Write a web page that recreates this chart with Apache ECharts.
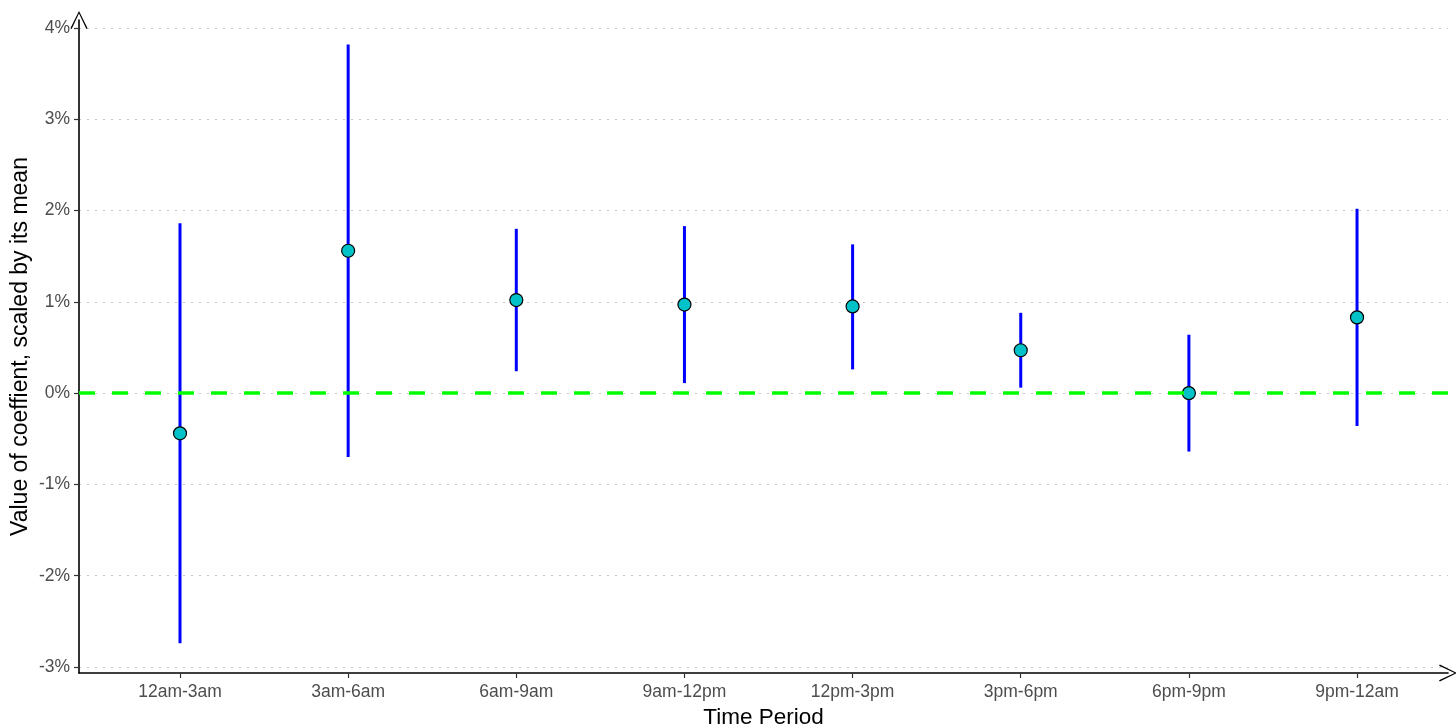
<!DOCTYPE html>
<html>
<head>
<meta charset="utf-8">
<script src="https://cdn.jsdelivr.net/npm/echarts@6/dist/echarts.min.js"></script>
<style>html,body{margin:0;padding:0;background:#fff;}#c{width:1456px;height:725px;}</style>
</head>
<body>
<div id="c"></div>
<script>
const categories = ['12am-3am','3am-6am','6am-9am','9am-12pm','12pm-3pm','3pm-6pm','6pm-9pm','9pm-12am'];
const estimate = [-0.44, 1.56, 1.02, 0.97, 0.95, 0.47, 0.00, 0.83];
const lower = [-2.74, -0.70, 0.24, 0.11, 0.26, 0.06, -0.64, -0.36];
const upper = [1.86, 3.82, 1.80, 1.83, 1.63, 0.88, 0.64, 2.02];
const yTicks = [-3, -2, -1, 0, 1, 2, 3, 4];

const xPos = categories.map((c, i) => i + 1);
const pointData = estimate.map((v, i) => [xPos[i], v]);
const barData = lower.map((v, i) => [xPos[i], v, upper[i]]);

const chevron = 'path://M0,100 L50,0 L100,100 L93,105 L50,14 L7,105 Z';
const font = 'Liberation Sans, Arial, sans-serif';

const chart = echarts.init(document.getElementById('c'), null, {renderer: 'canvas'});
chart.setOption({
  animation: false,
  backgroundColor: '#fff',
  grid: {left: 79, right: 8, top: 20, bottom: 52, containLabel: false, outerBoundsMode: 'none'},
  xAxis: {
    type: 'value',
    min: 0.3993,
    max: 8.541,
    name: 'Time Period',
    nameLocation: 'middle',
    nameGap: 33,
    nameMoveOverlap: false,
    nameTextStyle: {color: '#000', fontSize: 22.5, fontFamily: font},
    axisLine: {show: true, onZero: false, lineStyle: {color: '#000', width: 1.6},
      symbol: ['none', chevron], symbolSize: [24, 18], symbolOffset: [0, 0]},
    axisTick: {show: true, length: 5, customValues: xPos, lineStyle: {color: '#333', width: 1.2}},
    axisLabel: {customValues: xPos, color: '#4d4d4d', fontSize: 17.5, fontFamily: font, margin: 10,
      formatter: v => categories[Math.round(v) - 1] || ''},
    splitLine: {show: false}
  },
  yAxis: {
    type: 'value',
    min: -3.066,
    max: 4.088,
    name: 'Value of coeffient, scaled by its mean',
    nameLocation: 'middle',
    nameGap: 47,
    nameMoveOverlap: false,
    nameRotate: 90,
    nameTextStyle: {color: '#000', fontSize: 23, fontFamily: font},
    axisLine: {show: true, onZero: false, lineStyle: {color: '#000', width: 1.6},
      symbol: ['none', chevron], symbolSize: [24, 18], symbolOffset: [0, 0]},
    axisTick: {show: true, length: 5, customValues: yTicks, lineStyle: {color: '#333', width: 1.2}},
    axisLabel: {customValues: yTicks, color: '#4d4d4d', fontSize: 17.5, fontFamily: font, margin: 9,
      formatter: v => Math.round(v) + '%'},
    splitLine: {show: true, customValues: yTicks, lineStyle: {color: '#c8c8c8', width: 1.2, type: [2, 6]}}
  },
  series: [
    {
      type: 'custom',
      z: 2,
      data: barData,
      renderItem: function (params, api) {
        const x = api.value(0);
        const p1 = api.coord([x, api.value(1)]);
        const p2 = api.coord([x, api.value(2)]);
        return {
          type: 'line',
          shape: {x1: p1[0], y1: p1[1], x2: p2[0], y2: p2[1]},
          style: {stroke: '#0000ff', lineWidth: 3}
        };
      }
    },
    {
      type: 'scatter',
      z: 3,
      data: pointData,
      symbol: 'circle',
      symbolSize: 13,
      itemStyle: {color: '#00c2c8', borderColor: '#000', borderWidth: 1.2, opacity: 1}
    },
    {
      type: 'line',
      z: 5,
      data: [],
      markLine: {
        silent: true,
        symbol: ['none', 'none'],
        label: {show: false},
        lineStyle: {color: '#00ff00', width: 3.5, type: [16, 17]},
        data: [{yAxis: 0}]
      }
    }
  ]
});
</script>
</body>
</html>
